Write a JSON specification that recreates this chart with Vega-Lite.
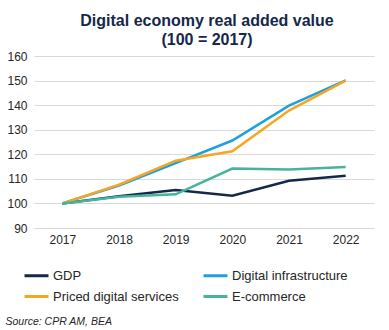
{
  "$schema": "https://vega.github.io/schema/vega-lite/v6.json",
  "width": 340,
  "height": 172,
  "autosize": "none",
  "padding": {"left": 34, "top": 56, "right": 15, "bottom": 102},
  "background": "white",
  "config": {"view": {"stroke": null}, "font": "Liberation Sans"},
  "title": {
    "text": ["Digital economy real added value", "(100 = 2017)"],
    "font": "Liberation Sans",
    "fontSize": 16,
    "fontWeight": "bold",
    "color": "#14284b",
    "lineHeight": 19,
    "offset": 2,
    "dx": 3,
    "anchor": "middle"
  },
  "data": {
    "values": [
      {"year": "2017", "series": "GDP", "value": 100},
      {"year": "2018", "series": "GDP", "value": 102.9},
      {"year": "2019", "series": "GDP", "value": 105.5},
      {"year": "2020", "series": "GDP", "value": 103.1},
      {"year": "2021", "series": "GDP", "value": 109.2},
      {"year": "2022", "series": "GDP", "value": 111.3},
      {"year": "2017", "series": "Digital infrastructure", "value": 100},
      {"year": "2018", "series": "Digital infrastructure", "value": 107.3},
      {"year": "2019", "series": "Digital infrastructure", "value": 116.4},
      {"year": "2020", "series": "Digital infrastructure", "value": 125.6},
      {"year": "2021", "series": "Digital infrastructure", "value": 139.8},
      {"year": "2022", "series": "Digital infrastructure", "value": 150.1},
      {"year": "2017", "series": "Priced digital services", "value": 100},
      {"year": "2018", "series": "Priced digital services", "value": 107.6},
      {"year": "2019", "series": "Priced digital services", "value": 117.4},
      {"year": "2020", "series": "Priced digital services", "value": 121.2},
      {"year": "2021", "series": "Priced digital services", "value": 137.8},
      {"year": "2022", "series": "Priced digital services", "value": 150.0},
      {"year": "2017", "series": "E-commerce", "value": 100},
      {"year": "2018", "series": "E-commerce", "value": 102.7},
      {"year": "2019", "series": "E-commerce", "value": 103.7},
      {"year": "2020", "series": "E-commerce", "value": 114.2},
      {"year": "2021", "series": "E-commerce", "value": 113.8},
      {"year": "2022", "series": "E-commerce", "value": 114.8}
    ]
  },
  "mark": {"type": "line", "strokeWidth": 2.5},
  "encoding": {
    "x": {
      "field": "year",
      "type": "ordinal",
      "scale": {"type": "point", "padding": 0.5},
      "axis": {
        "labelAngle": 0,
        "domain": false,
        "ticks": false,
        "grid": false,
        "labelFont": "Liberation Sans",
        "labelFontSize": 12,
        "labelColor": "#262626",
        "labelPadding": 6,
        "title": "Source: CPR AM, BEA",
        "titleFont": "Liberation Sans",
        "titleFontStyle": "italic",
        "titleFontWeight": "normal",
        "titleFontSize": 10.5,
        "titleColor": "#262626",
        "titleAnchor": "start",
        "titleAlign": "left",
        "titleX": -29,
        "titleY": 96,
        "titleBaseline": "alphabetic"
      }
    },
    "y": {
      "field": "value",
      "type": "quantitative",
      "scale": {"domain": [90, 160], "nice": false, "zero": false},
      "axis": {
        "values": [90, 100, 110, 120, 130, 140, 150, 160],
        "domain": false,
        "ticks": false,
        "gridColor": "#d9d9d9",
        "gridWidth": 1,
        "labelFont": "Liberation Sans",
        "labelFontSize": 12,
        "labelColor": "#262626",
        "labelPadding": 7,
        "title": null
      }
    },
    "color": {
      "field": "series",
      "type": "nominal",
      "scale": {
        "domain": ["GDP", "Digital infrastructure", "Priced digital services", "E-commerce"],
        "range": ["#14284b", "#1ea0dc", "#f5a623", "#46b49b"]
      },
      "legend": {
        "orient": "none",
        "legendX": -11,
        "legendY": 206,
        "direction": "horizontal",
        "columns": 2,
        "columnPadding": 18,
        "rowPadding": -4,
        "title": null,
        "symbolType": "stroke",
        "symbolStrokeWidth": 3,
        "symbolSize": 576,
        "labelOffset": 3,
        "labelFont": "Liberation Sans",
        "labelFontSize": 13,
        "labelColor": "#262626"
      }
    }
  }
}
